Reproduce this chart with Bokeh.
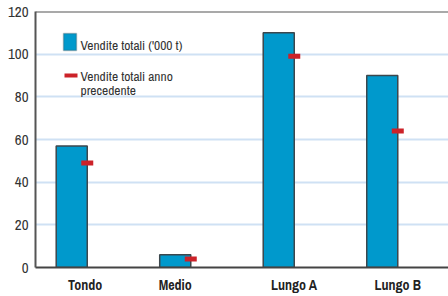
from bokeh.plotting import figure
from bokeh.models import Range1d, FixedTicker, Span, Label, BoxAnnotation
from bokeh.embed import file_html
from bokeh.resources import INLINE

categories = ["Tondo", "Medio", "Lungo A", "Lungo B"]
vendite = [57, 6, 110, 90]
vendite_prec = [49, 4, 99, 64]
y_ticks = [0, 20, 40, 60, 80, 100, 120]

FONT = "Archivo Narrow"
BAR_W = 0.3
label_pos = [0.13, 1.0, 2.15, 3.15]

xs = list(range(len(categories)))

p = figure(width=448, height=296, x_range=Range1d(-0.35, 3.64), y_range=Range1d(0, 120),
           output_backend="svg", toolbar_location=None,
           min_border_left=35, min_border_right=0, min_border_top=11, min_border_bottom=29)
p.outline_line_color = None
p.background_fill_color = "white"
p.border_fill_color = "white"

p.ygrid.ticker = FixedTicker(ticks=y_ticks)
p.ygrid.grid_line_color = "#cfe1f4"
p.ygrid.grid_line_width = 2
p.xgrid.visible = False

p.yaxis.ticker = FixedTicker(ticks=y_ticks)
p.yaxis.major_tick_out = 0
p.yaxis.major_tick_in = 0
p.yaxis.minor_tick_out = 0
p.yaxis.minor_tick_in = 0
p.yaxis.major_label_standoff = 7
p.yaxis.major_label_text_font = FONT
p.yaxis.major_label_text_font_size = "15px"
p.yaxis.major_label_text_color = "#333333"
p.yaxis.axis_line_color = "#555555"
p.yaxis.axis_line_width = 2

p.xaxis.ticker = FixedTicker(ticks=label_pos)
p.xaxis.major_label_overrides = {pos: c for pos, c in zip(label_pos, categories)}
p.xaxis.major_tick_out = 0
p.xaxis.major_tick_in = 0
p.xaxis.minor_tick_out = 0
p.xaxis.minor_tick_in = 0
p.xaxis.major_label_standoff = 8
p.xaxis.major_label_text_line_height = 1.0
p.xaxis.major_label_text_font = FONT
p.xaxis.major_label_text_font_style = "bold"
p.xaxis.major_label_text_font_size = "14px"
p.xaxis.major_label_text_color = "#222222"
p.xaxis.axis_line_color = "#444444"
p.xaxis.axis_line_width = 2

p.add_layout(Span(location=120, dimension="width", line_color="#555555", line_width=2))

p.vbar(x=xs, top=vendite, bottom=0, width=BAR_W, fill_color="#0099cc",
       line_color="#3c474d", line_width=1.5)
p.rect(x=[x + BAR_W / 2 for x in xs], y=vendite_prec, width=12, height=5,
       width_units="screen", height_units="screen", fill_color="#cc2229", line_color=None)

p.add_layout(BoxAnnotation(left=28, right=41, bottom=217, top=234,
                           left_units="screen", right_units="screen",
                           bottom_units="screen", top_units="screen",
                           fill_color="#0099cc", fill_alpha=1,
                           line_color="#3c474d", line_width=1.5))
p.add_layout(BoxAnnotation(left=29, right=42, bottom=190, top=194,
                           left_units="screen", right_units="screen",
                           bottom_units="screen", top_units="screen",
                           fill_color="#cc2229", fill_alpha=1, line_color=None))
for txt, yy in [("Vendite totali ('000 t)", 223), ("Vendite totali anno", 192), ("precedente", 178)]:
    p.add_layout(Label(x=45, y=yy, x_units="screen", y_units="screen", text=txt,
                       text_baseline="middle", text_font=FONT, text_font_size="13.5px",
                       text_color="#333333"))

open("out.html", "w").write(file_html(p, INLINE))
